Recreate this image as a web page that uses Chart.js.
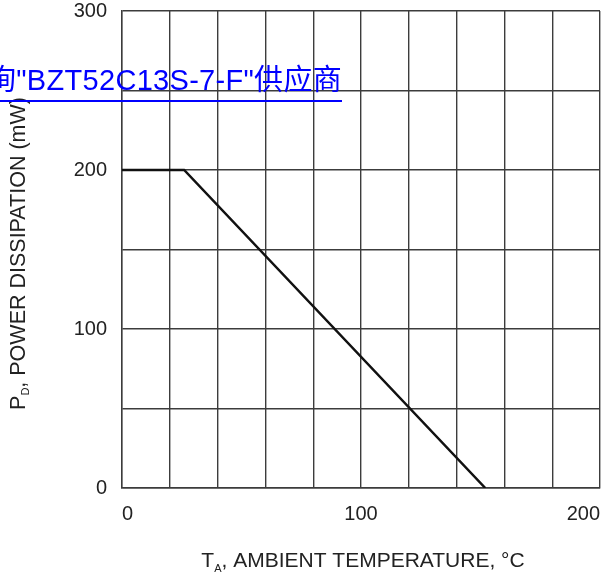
<!DOCTYPE html>
<html>
<head>
<meta charset="utf-8">
<script src="https://cdn.jsdelivr.net/npm/chart.js@4/dist/chart.umd.min.js"></script>
<style>
  html, body { margin: 0; padding: 0; background: #fff; overflow: hidden; }
  #wrap { position: relative; width: 609px; height: 575px; overflow: hidden; }
  #link {
    position: absolute; top: 64px; right: 267px;
    font: 29px "Liberation Sans", "Noto Sans CJK SC", sans-serif;
    line-height: 32px; color: #0000ff; text-decoration: none;
    border-bottom: 2px solid #0000ff; padding-bottom: 4px;
    white-space: nowrap; letter-spacing: 0.3px;
  }
</style>
</head>
<body>
<div id="wrap">
  <canvas id="chart" width="609" height="575"></canvas>
  <a id="link" href="#">查询"BZT52C13S-7-F"供应商</a>
</div>
<script>
// ===== DATA =====
const tempC = [0, 26, 152];        // ambient temperature, °C
const powerMW = [200, 200, 0];     // power dissipation, mW
const xTickLabels = [0, 100, 200];
const yTickLabels = [0, 100, 200, 300];

const textColor = "#222";
const gridColor = "#3c3c3c";

// ===== AXIS TITLES (with subscripts) =====
function drawParts(ctx, parts, x, y) {
  let total = 0;
  parts.forEach(p => {
    ctx.font = p.size + "px 'Liberation Sans', Arial, sans-serif";
    p.w = ctx.measureText(p.t).width;
    total += p.w;
  });
  let cx = x - total / 2;
  parts.forEach(p => {
    ctx.font = p.size + "px 'Liberation Sans', Arial, sans-serif";
    ctx.fillText(p.t, cx, y + (p.dy || 0));
    cx += p.w;
  });
}

const axisTitles = {
  id: "axisTitles",
  afterDraw(chart) {
    const ctx = chart.ctx;
    const area = chart.chartArea;
    ctx.save();
    ctx.fillStyle = textColor;
    ctx.textBaseline = "alphabetic";
    ctx.textAlign = "left";

    // x title
    drawParts(ctx, [
      { t: "T", size: 21 },
      { t: "A", size: 11, dy: 5 },
      { t: ", AMBIENT TEMPERATURE, °C", size: 21 }
    ], (area.left + area.right) / 2 + 2, 567);

    // y title
    ctx.translate(25, (area.top + area.bottom) / 2 + 4);
    ctx.rotate(-Math.PI / 2);
    drawParts(ctx, [
      { t: "P", size: 21.5 },
      { t: "D", size: 11, dy: 4 },
      { t: ", POWER DISSIPATION (mW)", size: 21.5 }
    ], 0, 0);
    ctx.restore();
  }
};

// ===== CHART =====
new Chart(document.getElementById("chart"), {
  type: "line",
  data: {
    datasets: [{
      data: tempC.map((t, i) => ({ x: t, y: powerMW[i] })),
      borderColor: "#111",
      borderWidth: 2.5,
      pointRadius: 0,
      tension: 0,
      fill: false
    }]
  },
  options: {
    responsive: false,
    animation: false,
    layout: { padding: { top: 11, right: 9, left: 0, bottom: 0 } },
    plugins: { legend: { display: false }, tooltip: { enabled: false } },
    scales: {
      x: {
        type: "linear",
        min: 0, max: 200,
        grid: { color: gridColor, lineWidth: 1.4, drawTicks: false },
        border: { color: gridColor, width: 1.4 },
        ticks: {
          stepSize: 20,
          align: "inner",
          padding: 14,
          color: textColor,
          font: { family: "'Liberation Sans', Arial", size: 20 },
          callback: v => xTickLabels.includes(v) ? String(v) : ""
        },
        afterFit(scale) {
          scale.height = 87;
          scale.paddingLeft = 0;
          scale.paddingRight = 0;
        }
      },
      y: {
        min: 0, max: 300,
        grid: { color: gridColor, lineWidth: 1.4, drawTicks: false },
        border: { color: gridColor, width: 1.4 },
        ticks: {
          stepSize: 50,
          padding: 15,
          color: textColor,
          font: { family: "'Liberation Sans', Arial", size: 20 },
          callback: v => yTickLabels.includes(v) ? String(v) : ""
        },
        afterFit(scale) {
          scale.width = 122;
          scale.paddingTop = 0;
          scale.paddingBottom = 0;
        }
      }
    }
  },
  plugins: [axisTitles]
});
</script>
</body>
</html>
